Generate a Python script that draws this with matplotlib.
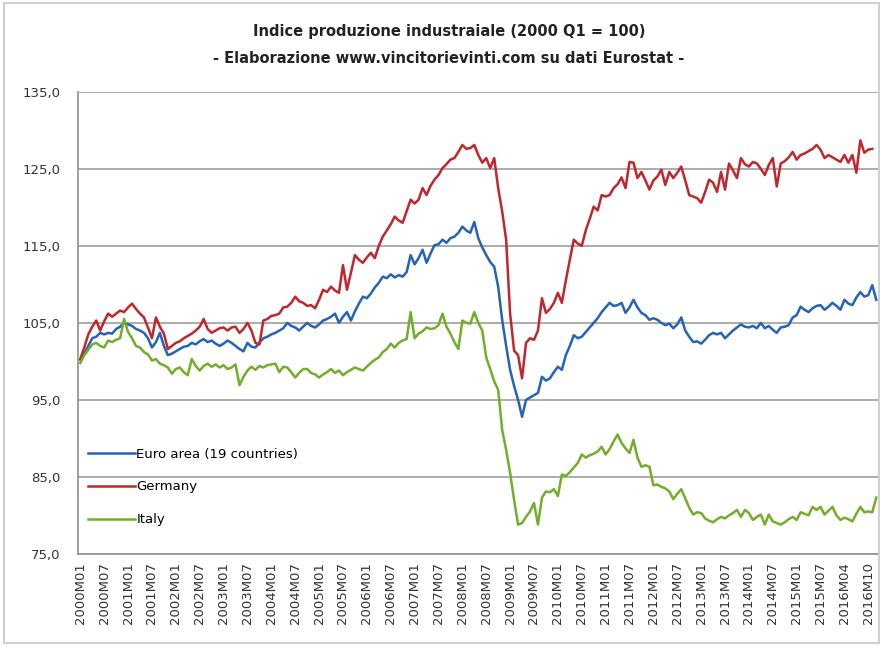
import numpy as np
import matplotlib
matplotlib.use("Agg")
import matplotlib.pyplot as plt
from matplotlib.patches import Rectangle

# tick labels shown on the category axis (one every 6 points)
tick_labels = ["2000M01", "2000M07", "2001M01", "2001M07", "2002M01", "2002M07",
               "2003M01", "2003M07", "2004M01", "2004M07", "2005M01", "2005M07",
               "2006M01", "2006M07", "2007M01", "2007M07", "2008M01", "2008M07",
               "2009M01", "2009M07", "2010M01", "2010M07", "2011M01", "2011M07",
               "2012M01", "2012M07", "2013M01", "2013M07", "2014M01", "2014M07",
               "2015M01", "2015M07", "2016M04", "2016M10"]

y_ticks = [75, 85, 95, 105, 115, 125, 135]

euro_area = [
    100.2, 101.0, 102.0, 103.0, 103.2, 103.7, 103.5, 103.7, 103.6, 104.2, 104.5, 105.0,
    104.8, 104.6, 104.2, 104.0, 103.7, 103.0, 101.8, 102.5, 103.7, 102.0, 100.8, 101.0,
    101.3, 101.6, 101.9, 102.0, 102.4, 102.2, 102.6, 102.9, 102.5, 102.7, 102.3, 102.0,
    102.3, 102.7, 102.4, 102.0, 101.6, 101.3, 102.4, 101.9, 101.8, 102.4, 103.0, 103.2,
    103.5, 103.7, 104.0, 104.3, 105.0, 104.6, 104.4, 104.0, 104.5, 105.0, 104.6, 104.4,
    104.8, 105.3, 105.5, 105.8, 106.2, 105.0, 105.8, 106.4, 105.3, 106.5, 107.5, 108.4,
    108.2, 108.8, 109.6, 110.2, 111.0, 110.8, 111.3, 110.9, 111.2, 111.0, 111.6, 113.8,
    112.6, 113.4, 114.5, 112.8, 114.0, 115.1, 115.2, 115.8, 115.4, 116.0, 116.2, 116.7,
    117.5, 117.0, 116.7, 118.1, 116.0, 114.8, 113.8, 112.9, 112.3, 109.7, 105.4, 102.0,
    98.9, 96.8, 95.0, 92.8, 95.0, 95.3, 95.6, 95.9, 98.0, 97.5, 97.8, 98.6,
    99.3, 98.9, 100.8, 102.0, 103.4, 103.0, 103.2, 103.8, 104.4, 105.0, 105.6, 106.4,
    107.0, 107.6, 107.2, 107.3, 107.6, 106.3, 107.0, 108.0, 107.0, 106.3, 106.0, 105.4,
    105.6, 105.4, 105.0, 104.7, 104.9, 104.3, 104.8, 105.7, 104.0, 103.2, 102.5, 102.6,
    102.3, 102.8, 103.4, 103.7, 103.5, 103.7, 103.0, 103.5, 104.0, 104.4, 104.8, 104.5,
    104.4, 104.6, 104.3, 105.0, 104.3, 104.6, 104.1, 103.7, 104.4, 104.5, 104.7, 105.7,
    106.0, 107.1, 106.7, 106.4, 106.9, 107.2, 107.3, 106.7, 107.1, 107.6, 107.2, 106.7,
    108.0, 107.5, 107.3, 108.3, 109.0, 108.4, 108.6, 109.9, 108.0]

germany = [
    100.3, 101.8, 103.5, 104.5, 105.3, 104.0, 105.2, 106.2, 105.8, 106.2, 106.6, 106.4,
    107.0, 107.5, 106.8, 106.2, 105.7, 104.4, 103.0, 105.7, 104.5, 103.6, 101.6, 102.0,
    102.4, 102.6, 103.0, 103.3, 103.6, 104.0, 104.5, 105.5, 104.2, 103.7, 104.0, 104.3,
    104.4, 104.0, 104.4, 104.5, 103.7, 104.2, 105.0, 104.0, 102.4, 102.2, 105.3, 105.5,
    105.9, 106.0, 106.2, 107.0, 107.1, 107.6, 108.4, 107.8, 107.6, 107.2, 107.3, 106.9,
    108.0, 109.3, 109.0, 109.7, 109.2, 108.9, 112.5, 109.3, 111.5, 113.8, 113.2, 112.8,
    113.5, 114.1, 113.4, 115.0, 116.2, 117.0, 117.8, 118.8, 118.3, 118.0, 119.5, 121.0,
    120.5, 121.0, 122.5, 121.6, 122.8, 123.6, 124.2, 125.1, 125.6, 126.2, 126.4, 127.2,
    128.1, 127.6, 127.7, 128.1, 126.8, 125.8, 126.4, 125.1, 126.4, 122.5, 119.5, 115.8,
    106.2, 101.4, 100.8, 97.8, 102.4, 103.0, 102.8, 104.0, 108.2, 106.3, 106.8, 107.6,
    108.9, 107.6, 110.5, 113.2, 115.8, 115.3, 115.0, 117.0, 118.5, 120.1, 119.6, 121.6,
    121.4, 121.6, 122.5, 123.0, 123.9, 122.5, 125.9, 125.8, 123.8, 124.6, 123.5, 122.3,
    123.5, 124.0, 124.9, 122.9, 124.6, 123.8, 124.5, 125.3, 123.5, 121.6, 121.4, 121.2,
    120.6, 122.0, 123.6, 123.2, 122.0, 124.6, 122.3, 125.7, 124.8, 123.8, 126.4, 125.6,
    125.3, 125.9, 125.7, 125.0, 124.2, 125.5, 126.4, 122.7, 125.7, 126.0, 126.5, 127.2,
    126.2, 126.8, 127.0, 127.3, 127.6, 128.1, 127.5, 126.4, 126.8, 126.5, 126.2, 125.9,
    126.8, 125.8, 126.8, 124.5, 128.7, 127.1, 127.5, 127.6, np.nan]

italy = [
    99.8, 100.8, 101.5, 102.2, 102.4, 102.0, 101.8, 102.7, 102.5, 102.8, 103.0, 105.5,
    103.8, 103.0, 102.0, 101.8, 101.2, 100.9, 100.1, 100.3, 99.7, 99.5, 99.2, 98.4,
    99.0, 99.2, 98.6, 98.2, 100.3, 99.4, 98.8, 99.4, 99.7, 99.3, 99.6, 99.2,
    99.5, 99.0, 99.2, 99.6, 96.9, 98.0, 98.8, 99.3, 98.9, 99.4, 99.2, 99.5,
    99.6, 99.7, 98.6, 99.3, 99.2, 98.6, 97.9, 98.5, 99.0, 99.0, 98.5, 98.3,
    97.9, 98.3, 98.6, 99.0, 98.5, 98.8, 98.2, 98.6, 98.9, 99.2, 99.0, 98.8,
    99.3, 99.8, 100.2, 100.5, 101.2, 101.6, 102.3, 101.8, 102.4, 102.7, 102.9, 106.4,
    103.0, 103.6, 103.9, 104.4, 104.2, 104.3, 104.7, 106.2, 104.5, 103.6, 102.5, 101.6,
    105.3, 105.0, 104.9, 106.4, 105.0, 104.0, 100.5, 99.0, 97.4, 96.3, 91.1, 88.5,
    85.5, 82.0, 78.8, 79.0, 79.8, 80.5, 81.6, 78.8, 82.3, 83.1, 83.0, 83.4,
    82.5, 85.3, 85.1, 85.6, 86.2, 86.8, 87.9, 87.5, 87.8, 88.0, 88.3, 88.9,
    87.9, 88.6, 89.6, 90.5, 89.4, 88.7, 88.1, 89.8, 87.5, 86.3, 86.5, 86.3,
    83.9, 84.0, 83.7, 83.5, 83.1, 82.1, 82.8, 83.4, 82.2, 81.0, 80.1, 80.4,
    80.3, 79.6, 79.3, 79.1, 79.5, 79.8, 79.6, 80.0, 80.3, 80.7, 79.8, 80.7,
    80.3, 79.4, 79.8, 80.1, 78.8, 80.1, 79.2, 79.0, 78.8, 79.1, 79.5, 79.8,
    79.4, 80.4, 80.2, 80.0, 81.1, 80.7, 81.1, 80.1, 80.6, 81.1, 80.0, 79.4,
    79.7, 79.5, 79.2, 80.2, 81.1, 80.4, 80.5, 80.4, 82.3]

series_names = ["Euro area (19 countries)", "Germany", "Italy"]
series_colors = ["#2563b8", "#c0272d", "#72ad2b"]

plt.rcParams['font.family'] = ['DejaVu Sans']

fig = plt.figure(figsize=(8.8, 6.47), dpi=100)
ax = fig.add_axes([0.089, 0.144, 0.909, 0.714])

x = np.arange(len(euro_area))
for vals, name, col in zip([euro_area, germany, italy], series_names, series_colors):
    ax.plot(x, vals, color=col, lw=1.8, label=name)

ax.set_xlim(-0.5, len(euro_area) - 0.5)
ax.set_ylim(75, 135)
ax.set_yticks(y_ticks)
ax.set_yticklabels([("%.1f" % v).replace(".", ",") for v in y_ticks],
                   fontsize=9.5, color="#333333")
ax.set_xticks(np.arange(0, 6 * len(tick_labels), 6))
ax.set_xticklabels(tick_labels, rotation=90, fontsize=9.5, color="#333333")
ax.tick_params(axis="x", length=0, pad=6)
ax.tick_params(axis="y", length=0, pad=13)

ax.grid(axis="y", color="#a6a6a6", lw=1.3)
ax.set_axisbelow(True)
for s in ["top", "right"]:
    ax.spines[s].set_visible(False)
ax.spines["left"].set_color("#909090")
ax.spines["bottom"].set_color("#909090")
ax.spines["left"].set_linewidth(1.2)
ax.spines["bottom"].set_linewidth(1.2)

ax.legend(loc="upper left", bbox_to_anchor=(0.0, 0.25), frameon=False,
          fontsize=9.5, handlelength=3.6, handletextpad=0.1, labelspacing=1.5,
          borderaxespad=0.3)

fig.text(0.51, 0.951, "Indice produzione industraiale (2000 Q1 = 100)",
         ha="center", va="center", fontsize=10.5, fontweight="bold", color="#222222")
fig.text(0.51, 0.910, "- Elaborazione www.vincitorievinti.com su dati Eurostat -",
         ha="center", va="center", fontsize=10.5, fontweight="bold", color="#222222")

fig.patches.append(Rectangle((0.004, 0.006), 0.995, 0.99, transform=fig.transFigure,
                             fill=False, edgecolor="#d0d0d0", lw=1.5))

fig.savefig("out.png", dpi=100)
